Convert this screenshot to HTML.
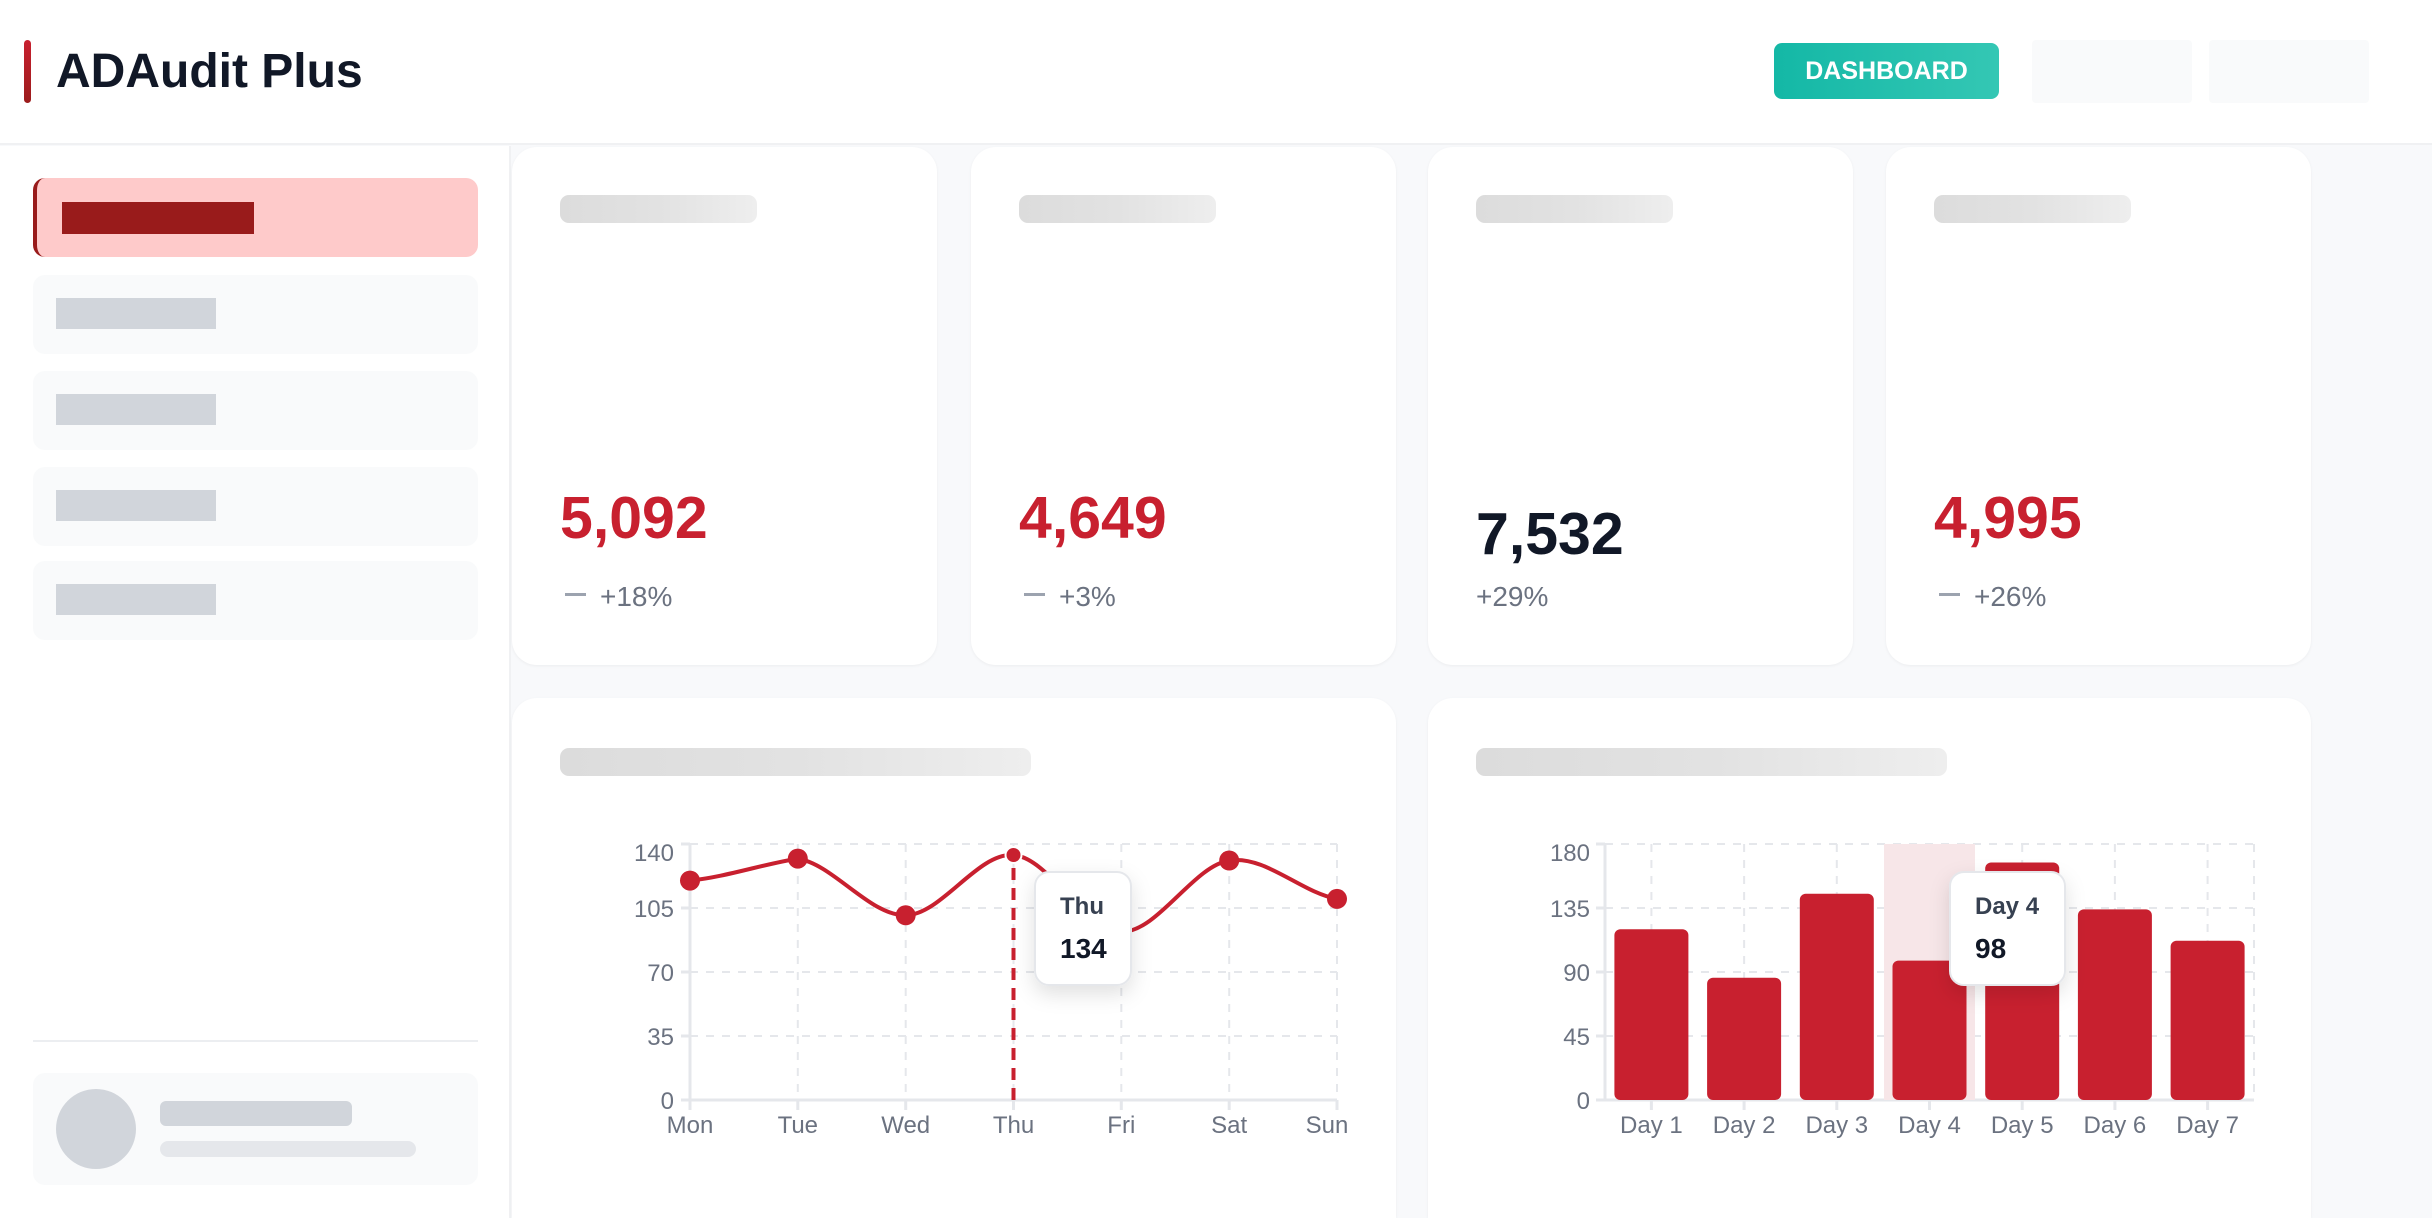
<!DOCTYPE html>
<html><head><meta charset="utf-8"><style>
*{margin:0;padding:0;box-sizing:border-box}
html{width:2432px;height:1218px;overflow:hidden}
body{width:2432px;height:1218px;overflow:hidden;background:#f8f9fb;font-family:"Liberation Sans",sans-serif;position:relative}
.a{position:absolute}
.card{position:absolute;background:#fff;border-radius:25px;box-shadow:0 1px 3px rgba(0,0,0,.05)}
.sk{position:absolute;border-radius:9px;background:linear-gradient(90deg,#dcdcdc,#e2e2e2 50%,#eeeeee)}
.num{position:absolute;font-size:59px;font-weight:bold;color:#c8202f;left:48px}
.chg{position:absolute;font-size:28px;color:#6b7280}
.nav{position:absolute;left:33px;width:445px;height:79px;background:#f9fafb;border-radius:12px}
.nav i{position:absolute;left:23px;top:23px;width:160px;height:31px;background:#d1d5db}
</style></head><body>
<div class="a" style="left:0;top:0;width:2432px;height:145px;background:#fff;border-bottom:2px solid #f0f1f3"></div>
<div class="a" style="left:24px;top:40px;width:7px;height:63px;border-radius:4px;background:linear-gradient(#c8202f,#9b1c1c)"></div>
<div class="a" style="left:56px;top:41px;font-size:48px;font-weight:bold;color:#111827;line-height:62px">ADAudit Plus</div>
<div class="a" style="left:1774px;top:43px;width:225px;height:56px;border-radius:8px;background:linear-gradient(90deg,#14b8a6,#34c7b4);color:#fff;font-weight:bold;font-size:25px;line-height:56px;text-align:center">DASHBOARD</div>
<div class="a" style="left:2032px;top:40px;width:160px;height:63px;background:#f9fafb;border-radius:4px"></div>
<div class="a" style="left:2209px;top:40px;width:160px;height:63px;background:#f9fafb;border-radius:4px"></div>

<div class="a" style="left:0;top:146px;width:511px;height:1072px;background:#fff;border-right:2px solid #f0f1f3"></div>
<div class="a" style="left:33px;top:178px;width:445px;height:79px;background:#fecaca;border-radius:12px;border-left:4px solid #991b1b"></div>
<div class="a" style="left:62px;top:202px;width:192px;height:32px;background:#991b1b"></div>
<div class="nav" style="top:275px"><i></i></div>
<div class="nav" style="top:371px"><i></i></div>
<div class="nav" style="top:467px"><i></i></div>
<div class="nav" style="top:561px"><i></i></div>
<div class="a" style="left:33px;top:1040px;width:445px;height:2px;background:#eceef1"></div>
<div class="a" style="left:33px;top:1073px;width:445px;height:112px;background:#f9fafb;border-radius:12px"></div>
<div class="a" style="left:56px;top:1089px;width:80px;height:80px;border-radius:50%;background:#d1d5db"></div>
<div class="a" style="left:160px;top:1101px;width:192px;height:25px;border-radius:6px;background:#d1d5db"></div>
<div class="a" style="left:160px;top:1141px;width:256px;height:16px;border-radius:8px;background:#e5e7eb"></div>

<div class="card" style="left:512px;top:147px;width:425px;height:518px"><div class="sk" style="left:48px;top:48px;width:197px;height:28px"></div><div class="num" style="top:337px">5,092</div><div class="a" style="left:53px;top:446px;width:21px;height:3px;background:#9ca3af"></div><div class="chg" style="left:88px;top:434px">+18%</div></div>
<div class="card" style="left:971px;top:147px;width:425px;height:518px"><div class="sk" style="left:48px;top:48px;width:197px;height:28px"></div><div class="num" style="top:337px">4,649</div><div class="a" style="left:53px;top:446px;width:21px;height:3px;background:#9ca3af"></div><div class="chg" style="left:88px;top:434px">+3%</div></div>
<div class="card" style="left:1428px;top:147px;width:425px;height:518px"><div class="sk" style="left:48px;top:48px;width:197px;height:28px"></div><div class="num" style="top:353px;color:#111827">7,532</div><div class="chg" style="left:48px;top:434px">+29%</div></div>
<div class="card" style="left:1886px;top:147px;width:425px;height:518px"><div class="sk" style="left:48px;top:48px;width:197px;height:28px"></div><div class="num" style="top:337px">4,995</div><div class="a" style="left:53px;top:446px;width:21px;height:3px;background:#9ca3af"></div><div class="chg" style="left:88px;top:434px">+26%</div></div>

<div class="card" style="left:512px;top:698px;width:884px;height:520px;border-radius:25px 25px 0 0"><div class="sk" style="left:48px;top:50px;width:471px;height:28px"></div></div>
<div class="card" style="left:1428px;top:698px;width:883px;height:520px;border-radius:25px 25px 0 0"><div class="sk" style="left:48px;top:50px;width:471px;height:28px"></div></div>

<svg class="a" style="left:0;top:0" width="2432" height="1218" font-family="Liberation Sans, sans-serif">
<defs><filter id="sh" x="-50%" y="-50%" width="200%" height="200%"><feDropShadow dx="0" dy="8" stdDeviation="10" flood-color="#000" flood-opacity="0.12"/></filter></defs>
<g stroke="#e5e7eb" stroke-width="2" stroke-dasharray="8,8" fill="none">
<path d="M690,844H1337M690,908H1337M690,972H1337M690,1036H1337"/>
<path d="M797.8,844V1100M905.7,844V1100M1013.5,844V1100M1121.3,844V1100M1229.2,844V1100M1337,844V1100"/>
<path d="M1605,844H2254M1605,908H2254M1605,972H2254M1605,1036H2254"/>
<path d="M1651.4,844V1100M1744.1,844V1100M1836.8,844V1100M1929.5,844V1100M2022.2,844V1100M2114.9,844V1100M2207.6,844V1100M2254,844V1100"/>
</g>
<g stroke="#e5e7eb" stroke-width="3" fill="none"><path d="M690,844V1100H1337M1605,844V1100H2254"/>
<path d="M690,1100v10M797.8,1100v10M905.7,1100v10M1013.5,1100v10M1121.3,1100v10M1229.2,1100v10M1337,1100v10M681,844h9M681,908h9M681,972h9M681,1036h9M681,1100h9"/>
<path d="M1651.4,1100v10M1744.1,1100v10M1836.8,1100v10M1929.5,1100v10M2022.2,1100v10M2114.9,1100v10M2207.6,1100v10M1596,844h9M1596,908h9M1596,972h9M1596,1036h9M1596,1100h9"/></g>
<g fill="#6b7280" font-size="24" text-anchor="end">
<text x="674" y="861">140</text><text x="674" y="917">105</text><text x="674" y="981">70</text><text x="674" y="1045">35</text><text x="674" y="1109">0</text>
<text x="1590" y="861">180</text><text x="1590" y="917">135</text><text x="1590" y="981">90</text><text x="1590" y="1045">45</text><text x="1590" y="1109">0</text></g>
<g fill="#6b7280" font-size="24" text-anchor="middle">
<text x="690" y="1133">Mon</text><text x="797.8" y="1133">Tue</text><text x="905.7" y="1133">Wed</text><text x="1013.5" y="1133">Thu</text><text x="1121.3" y="1133">Fri</text><text x="1229.2" y="1133">Sat</text><text x="1327" y="1133">Sun</text>
<text x="1651.4" y="1133">Day 1</text><text x="1744.1" y="1133">Day 2</text><text x="1836.8" y="1133">Day 3</text><text x="1929.5" y="1133">Day 4</text><text x="2022.2" y="1133">Day 5</text><text x="2114.9" y="1133">Day 6</text><text x="2207.6" y="1133">Day 7</text></g>
<path d="M1013.5,848V1100" stroke="#c8202f" stroke-width="4" stroke-dasharray="12,8"/>
<path d="M690,880.6C725.9,876.9 761.9,864.4 797.8,858.6C833.7,864.4 869.8,915.9 905.7,915.3C941.6,914.7 977.6,852.3 1013.5,855C1049.4,857.8 1085.4,930.9 1121.3,931.8C1157.2,932.7 1193.3,866 1229.2,860.5C1265.1,855 1301.1,892.5 1337,898.9" fill="none" stroke="#c8202f" stroke-width="4"/>
<g fill="#c8202f"><circle cx="690" cy="880.6" r="10"/><circle cx="797.8" cy="858.6" r="10"/><circle cx="905.7" cy="915.3" r="10"/><circle cx="1013.5" cy="855" r="8" stroke="#fff" stroke-width="2"/><circle cx="1229.2" cy="860.5" r="10"/><circle cx="1337" cy="898.9" r="10"/></g>
<rect x="1884" y="844" width="91" height="256" fill="#f7e6e8"/>
<g fill="#c8202f">
<rect x="1614.4" y="929.3" width="74" height="170.7" rx="6"/>
<rect x="1707.1" y="977.7" width="74" height="122.3" rx="6"/>
<rect x="1799.8" y="893.8" width="74" height="206.2" rx="6"/>
<rect x="1892.5" y="960.6" width="74" height="139.4" rx="6"/>
<rect x="1985.2" y="862.5" width="74" height="237.5" rx="6"/>
<rect x="2077.9" y="909.4" width="74" height="190.6" rx="6"/>
<rect x="2170.6" y="940.7" width="74" height="159.3" rx="6"/></g>
<rect x="1035" y="872" width="96" height="113" rx="14" fill="#fff" stroke="#e5e7eb" stroke-width="2" filter="url(#sh)"/>
<text x="1060" y="914" font-size="24" font-weight="bold" fill="#374151">Thu</text>
<text x="1060" y="958" font-size="28" font-weight="bold" fill="#111827">134</text>
<rect x="1950" y="872" width="115" height="113" rx="14" fill="#fff" stroke="#e5e7eb" stroke-width="2" filter="url(#sh)"/>
<text x="1975" y="914" font-size="24" font-weight="bold" fill="#374151">Day 4</text>
<text x="1975" y="958" font-size="28" font-weight="bold" fill="#111827">98</text>
</svg>
</body></html>
